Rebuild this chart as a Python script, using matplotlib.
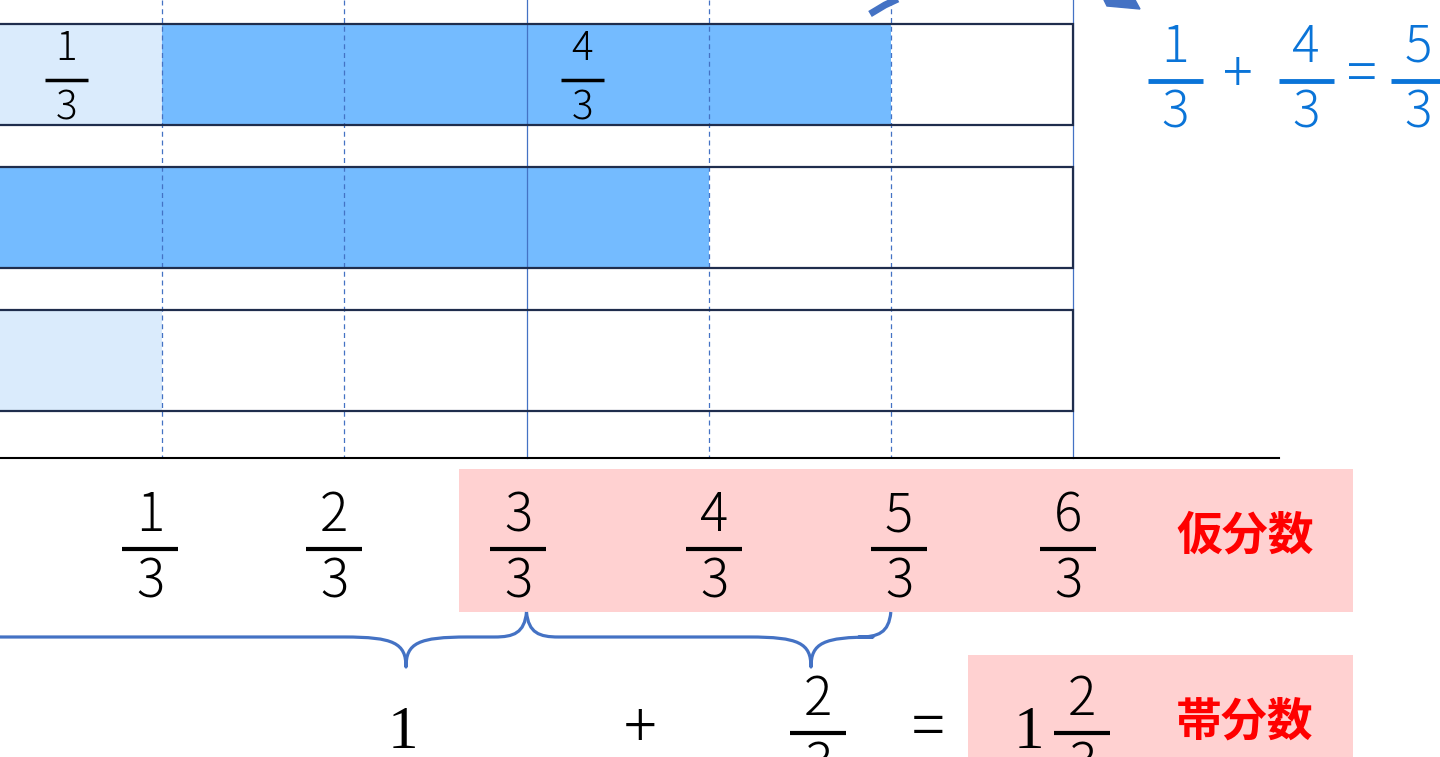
import matplotlib.pyplot as plt
from matplotlib.patches import Rectangle, Polygon, PathPatch
from matplotlib.path import Path

plt.rcParams['font.family'] = ['Noto Sans CJK JP', 'DejaVu Sans']
plt.rcParams['font.weight'] = 'light'

# data: widths are counted in thirds
numerators = [1, 2, 3, 4, 5, 6]
denominator = 3
row_light = [1, 0, 1]      # light part of each bar (thirds)
row_dark = [4, 4, 0]       # dark part following the light part
bar_total = 6
bar_labels = [(1, 3), (4, 3)]
eq_top = [(1, 3), '+', (4, 3), '=', (5, 3)]
mixed_whole = 1
mixed_num = 2
improper_name = '仮分数'
mixed_name = '帯分数'

# layout (pixels)
W, H = 1440, 757
X0 = -20.0
UNIT = (1073 - X0) / bar_total
def ux(v):
    return X0 + UNIT * v

BAR_Y = [24, 167, 310]
BAR_H = 101
LIGHT = '#DAEBFC'
DARK = '#74BBFF'
EDGE = '#1F2D4D'
GRIDC = '#4472C4'
PINK = '#FFD1D1'
BLUE_TXT = '#0A74D8'

fig = plt.figure(figsize=(W / 100, H / 100), dpi=100)
ax = fig.add_axes([0, 0, 1, 1])
ax.set_xlim(0, W)
ax.set_ylim(H, 0)
ax.axis('off')


def frac(x, ybar, num, den, size, width, color='black', up=19, down=47, lw=3):
    ax.plot([x - width / 2, x + width / 2], [ybar, ybar], color=color, lw=lw,
            solid_capstyle='butt', zorder=6)
    ax.text(x, ybar - up, str(num), ha='center', va='baseline', fontsize=size,
            color=color, zorder=6)
    ax.text(x, ybar + down, str(den), ha='center', va='baseline', fontsize=size,
            color=color, zorder=6)


# pink boxes
ax.add_patch(Rectangle((459, 469), 1353 - 459, 612 - 469, color=PINK, lw=0, zorder=1))
ax.add_patch(Rectangle((968, 655), 1353 - 968, 110, color=PINK, lw=0, zorder=1))

# bars
for y, lt, dk in zip(BAR_Y, row_light, row_dark):
    if lt:
        ax.add_patch(Rectangle((ux(0), y), UNIT * lt, BAR_H, color=LIGHT, lw=0, zorder=2))
    if dk:
        ax.add_patch(Rectangle((ux(lt), y), UNIT * dk, BAR_H, color=DARK, lw=0, zorder=2))
    ax.add_patch(Rectangle((ux(0), y), UNIT * bar_total, BAR_H, fill=False,
                           ec=EDGE, lw=1.6, zorder=4))

# vertical guides
for n in numerators:
    ls = '-' if n % 3 == 0 else (0, (4, 3))
    ax.plot([ux(n), ux(n)], [0, 458], color=GRIDC, lw=0.9, ls=ls, zorder=3)

# baseline
ax.plot([0, 1279], [458, 458], color='black', lw=1.5, zorder=3)

# labels inside the first bar
frac(66, 80, bar_labels[0][0], bar_labels[0][1], 29, 43, up=20, down=40, lw=2.5)
frac(582, 80, bar_labels[1][0], bar_labels[1][1], 29, 43, up=20, down=40, lw=2.5)

# number line fractions
label_x = [150, 334, 518, 714, 899, 1068]
for x, n in zip(label_x, numerators):
    frac(x, 549, n, denominator, 38, 56, up=18, down=48)

ax.text(1245, 537, improper_name, ha='center', va='center', fontsize=33,
        fontweight='bold', color='red', zorder=6)
ax.text(1245, 723, mixed_name, ha='center', va='center', fontsize=33,
        fontweight='bold', color='red', zorder=6)

# braces
def brace(xl, xr, tip, ytop=612, ymid=637, ybot=667, r_end=32, r_tip=62):
    verts = [(xl, ytop), (xl + 2, ymid - 4), (xl + r_end * 0.4, ymid), (xl + r_end, ymid),
             (tip - r_tip, ymid),
             (tip - r_tip * 0.2, ymid), (tip, ymid + 6), (tip, ybot),
             (tip, ymid + 6), (tip + r_tip * 0.2, ymid), (tip + r_tip, ymid),
             (xr - r_end, ymid),
             (xr - r_end * 0.4, ymid), (xr - 2, ymid - 4), (xr, ytop)]
    codes = [Path.MOVETO, Path.CURVE4, Path.CURVE4, Path.CURVE4,
             Path.LINETO,
             Path.CURVE4, Path.CURVE4, Path.CURVE4,
             Path.CURVE4, Path.CURVE4, Path.CURVE4,
             Path.LINETO,
             Path.CURVE4, Path.CURVE4, Path.CURVE4]
    ax.add_patch(PathPatch(Path(verts, codes), fill=False, ec=GRIDC, lw=2.3,
                           joinstyle='round', zorder=5))

brace(ux(0) - 10, ux(3), 406)
brace(ux(3), ux(5), 811)

# bottom equation
ax.text(403, 748, str(mixed_whole), ha='center', va='baseline', fontsize=44,
        family='Liberation Serif', zorder=6)
ax.text(640, 730, '+', ha='center', va='center', fontsize=44, zorder=6)
frac(818, 733, mixed_num, denominator, 38, 56, up=18, down=48)
ax.text(928, 730, '=', ha='center', va='center', fontsize=44, zorder=6)
ax.text(1029, 748, str(mixed_whole), ha='center', va='baseline', fontsize=44,
        family='Liberation Serif', zorder=6)
frac(1082, 733, mixed_num, denominator, 38, 56, up=18, down=48)

# top right equation in blue
eq_x = [1175, 1238, 1306, 1362, 1418]
for x, item in zip(eq_x, eq_top):
    if isinstance(item, tuple):
        frac(x, 81, item[0], item[1], 37, 55, color=BLUE_TXT, up=19, down=47, lw=3.5)
    else:
        ax.text(x, 76, item, ha='center', va='center', fontsize=40,
                color=BLUE_TXT, zorder=6)

# arrow fragments at the top edge
ax.plot([870, 885, 902], [14, 5, -3], color=GRIDC, lw=5, solid_capstyle='butt', zorder=6)
ax.add_patch(Polygon([(1104, 0), (1107, 6), (1140, 9), (1134, -2)], color=GRIDC, zorder=6))

fig.savefig('out.png', dpi=100)
